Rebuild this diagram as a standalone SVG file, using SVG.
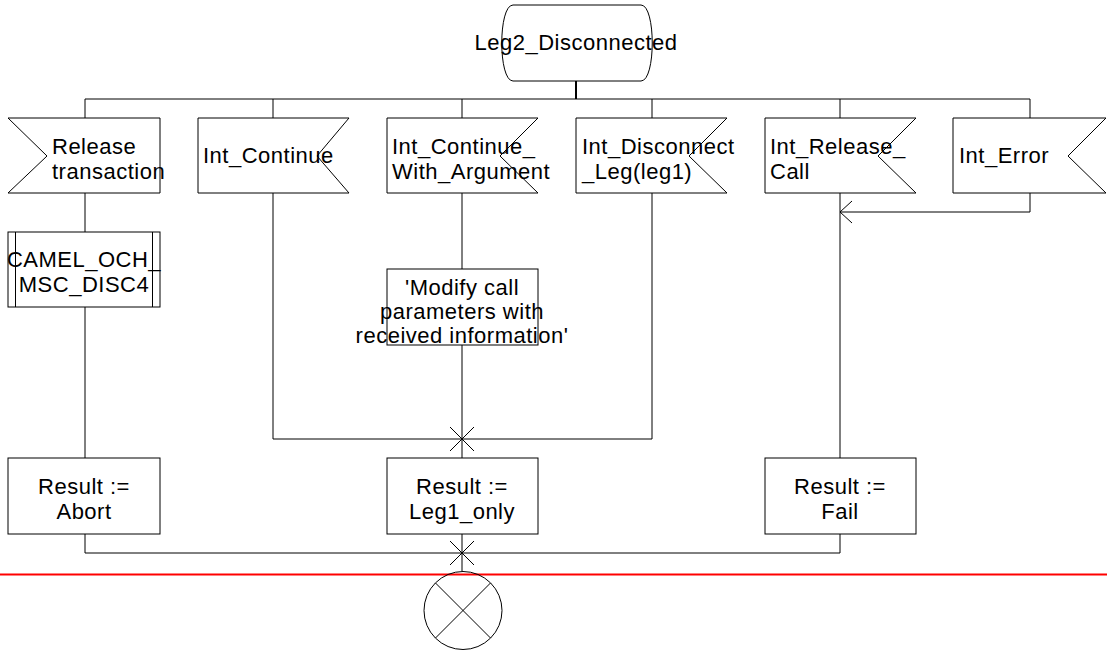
<svg xmlns="http://www.w3.org/2000/svg" width="1107" height="652" viewBox="0 0 1107 652">
<style>
.s{fill:#fff;stroke:#000;stroke-width:1}
.c{fill:none;stroke:#000;stroke-width:1}
.t{font-family:"Liberation Sans",Arial,sans-serif;font-size:22px;letter-spacing:0.5px;fill:#000}
.m{text-anchor:middle}
</style>
<rect width="1107" height="652" fill="#fff"/>
<g id="connectors">
<path class="c" d="M576,81V99" style="stroke-width:2"/>
<path class="c" d="M85,99H1030M85,99V118M273,99V118M462,99V118M652,99V118M840,99V118M1030,99V118"/>
<path class="c" d="M85,193V232M85,307V458"/>
<path class="c" d="M273,193V439H652M652,193V439"/>
<path class="c" d="M462,193V269M462,345V458"/>
<path class="c" d="M840,193V458"/>
<path class="c" d="M1030,193V212H840M852,201L840,212L852,223"/>
<path class="c" d="M85,534V553H840M840,534V553M462,534V571"/>
<path class="c" d="M450,427L474,451M474,427L450,451"/>
<path class="c" d="M450,541L474,565M474,541L450,565"/>
</g>
<g id="state">
<path class="s" d="M513,5H641C656,5 656,81 641,81H513C498,81 498,5 513,5Z"/>
<text class="t m" x="576" y="50">Leg2_Disconnected</text>
</g>
<g id="release_transaction">
<polygon class="s" points="8,118 160,118 160,193 8,193 47,156"/>
<text class="t" x="52" y="154">Release</text>
<text class="t" x="52" y="179">transaction</text>
</g>
<g id="int_continue">
<polygon class="s" points="198,118 349,118 317,156 349,193 198,193"/>
<text class="t" x="203" y="163">Int_Continue</text>
</g>
<g id="int_continue_with_argument">
<polygon class="s" points="387,118 538,118 500,156 538,193 387,193"/>
<text class="t" x="392" y="154">Int_Continue_</text>
<text class="t" x="392" y="179">With_Argument</text>
</g>
<g id="int_disconnect_leg">
<polygon class="s" points="576,118 727,118 689,156 727,193 576,193"/>
<text class="t" x="582" y="154">Int_Disconnect</text>
<text class="t" x="582" y="179">_Leg(leg1)</text>
</g>
<g id="int_release_call">
<polygon class="s" points="765,118 916,118 878,156 916,193 765,193"/>
<text class="t" x="770" y="154">Int_Release_</text>
<text class="t" x="770" y="179">Call</text>
</g>
<g id="int_error">
<polygon class="s" points="953,118 1106,118 1068,156 1106,193 953,193"/>
<text class="t" x="959" y="163">Int_Error</text>
</g>
<g id="camel_och_msc_disc4">
<rect class="s" x="8" y="232" width="152" height="75"/>
<path class="c" d="M15.5,232V307M152.5,232V307"/>
<text class="t m" x="84" y="267">CAMEL_OCH_</text>
<text class="t m" x="84" y="292">MSC_DISC4</text>
</g>
<g id="modify_call_parameters">
<rect class="s" x="387" y="269" width="151" height="76"/>
<text class="t m" x="462" y="295">'Modify call</text>
<text class="t m" x="462" y="319">parameters with</text>
<text class="t m" x="462" y="343">received information'</text>
</g>
<g id="result_abort">
<rect class="s" x="8" y="458" width="152" height="76"/>
<text class="t m" x="84" y="494">Result :=</text>
<text class="t m" x="84" y="519">Abort</text>
</g>
<g id="result_leg1_only">
<rect class="s" x="387" y="458" width="151" height="76"/>
<text class="t m" x="462" y="494">Result :=</text>
<text class="t m" x="462" y="519">Leg1_only</text>
</g>
<g id="result_fail">
<rect class="s" x="765" y="458" width="151" height="76"/>
<text class="t m" x="840" y="494">Result :=</text>
<text class="t m" x="840" y="519">Fail</text>
</g>
<g id="red_line">
<path d="M0,574.5H1107" stroke="#f00" stroke-width="2" fill="none"/>
</g>
<g id="stop">
<circle class="s" cx="463" cy="610.5" r="39" style="fill:none"/>
<path class="c" d="M435.4,582.9L490.6,638.1M490.6,582.9L435.4,638.1"/>
</g>
</svg>
